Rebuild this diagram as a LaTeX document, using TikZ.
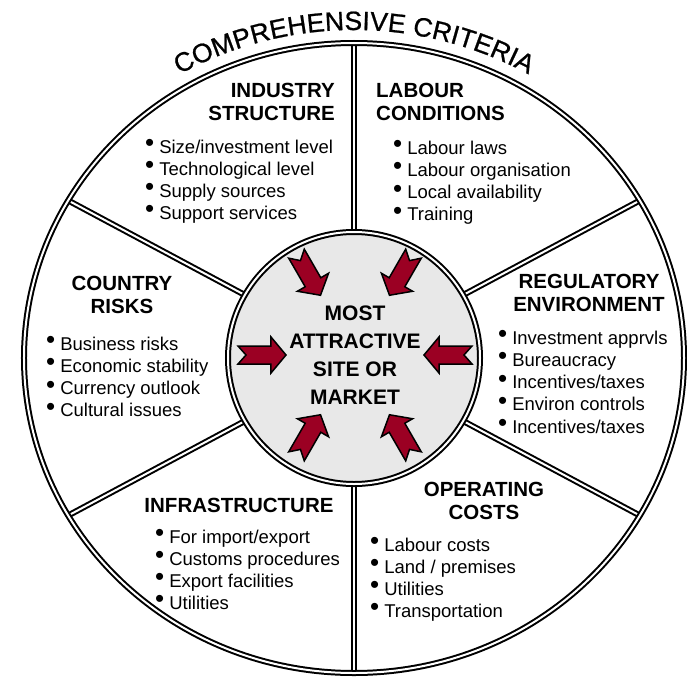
\documentclass[tikz,border=0pt]{standalone}
\usepackage{fontspec}
\setmainfont{Liberation Sans}
\newfontfamily\titelschrift[FakeBold=0.8]{Liberation Sans}
\usetikzlibrary{decorations.text}
\definecolor{pfeilrot}{RGB}{155,0,35}
\definecolor{kreisgrau}{RGB}{232,232,232}
\tikzset{
	dbl/.style={draw=black, double=white, line width=2pt, double distance=2pt},
	kopf/.style={font=\fontsize{20.5}{23}\selectfont\bfseries, inner sep=0pt},
	mitte/.style={font=\fontsize{21}{28}\selectfont\bfseries, inner sep=0pt, anchor=base},
	itm/.style={font=\fontsize{18.5}{22}\selectfont, inner sep=0pt, anchor=base west,
		execute at begin node={\raisebox{1.5pt}{\fontsize{26}{26}\selectfont\textbullet}\hspace{5pt}}},
	pfeil/.style={fill=pfeilrot, draw=black, line width=1.5pt, line join=miter}
}
\begin{document}
\begin{tikzpicture}[x=1pt,y=1pt]
	\useasboundingbox (-354,-320) rectangle (333,358);
	%Speichen
	\foreach \a in {90,30,-30,-90,210,150}
		\draw[dbl] (\a:126pt) -- ({330*cos(\a)},{315*sin(\a)});
	\draw[dbl] (0,0) ellipse[x radius=330pt, y radius=315pt];
	\draw[dbl, fill=kreisgrau] (0,0) circle[radius=126pt];
	%Pfeile zur Mitte
	\foreach \a in {0,60,120,180,240,300}
		\draw[pfeil, shift={(1,3)}, rotate=\a] (117,9) -- (84,9) -- (84,18) -- (69,0)
			-- (84,-18) -- (84,-9) -- (117,-9) -- (109,0) -- cycle;
	\foreach \t/\yy [count=\i] in {MOST/38, ATTRACTIVE/10, SITE OR/-18, MARKET/-46}
		\node[mitte] (m\i) at (1,\yy) {\t};
	%Titel
	\path[decorate, decoration={text along path, text align=center,
		text={|\titelschrift\fontsize{26.5}{27}\selectfont|COMPREHENSIVE CRITERIA}}]
		(0,-37) ++(125:365pt) arc[start angle=125, end angle=55, radius=365pt];
	%Industry structure
	\node[kopf, anchor=base east] (ind1) at (-19,261) {INDUSTRY};
	\node[kopf, anchor=base east] (ind2) at (-19,238) {STRUCTURE};
	\foreach \t [count=\i from 0] in {Size/investment level, Technological level, Supply sources, Support services}
		\node[itm] (indp\i) at (-209,205-22*\i) {\t};
	%Labour conditions
	\node[kopf, anchor=base west] (lab1) at (22,261) {LABOUR};
	\node[kopf, anchor=base west] (lab2) at (22,238) {CONDITIONS};
	\foreach \t [count=\i from 0] in {Labour laws, Labour organisation, Local availability, Training}
		\node[itm] (labp\i) at (39,204-22.3*\i) {\t};
	%Country risks
	\node[kopf, anchor=base] (cou1) at (-232,68) {COUNTRY};
	\node[kopf, anchor=base] (cou2) at (-232,45) {RISKS};
	\foreach \t [count=\i from 0] in {Business risks, Economic stability, Currency outlook, Cultural issues}
		\node[itm] (coup\i) at (-308,8-22.3*\i) {\t};
	%Regulatory environment
	\node[kopf, anchor=base] (reg1) at (235,70) {REGULATORY};
	\node[kopf, anchor=base] (reg2) at (235,47) {ENVIRONMENT};
	\foreach \t [count=\i from 0] in {Investment apprvls, Bureaucracy, Incentives/taxes, Environ controls, Incentives/taxes}
		\node[itm] (regp\i) at (144,14-22.3*\i) {\t};
	%Infrastructure
	\node[kopf, anchor=base] (inf1) at (-115,-154) {INFRASTRUCTURE};
	\foreach \t [count=\i from 0] in {For import/export, Customs procedures, Export facilities, Utilities}
		\node[itm] (infp\i) at (-199,-185-22*\i) {\t};
	%Operating costs
	\node[kopf, anchor=base] (ope1) at (130,-138) {OPERATING};
	\node[kopf, anchor=base] (ope2) at (130,-161) {COSTS};
	\foreach \t [count=\i from 0] in {Labour costs, Land / premises, Utilities, Transportation}
		\node[itm] (opep\i) at (16,-193-22*\i) {\t};
\end{tikzpicture}
\end{document}
